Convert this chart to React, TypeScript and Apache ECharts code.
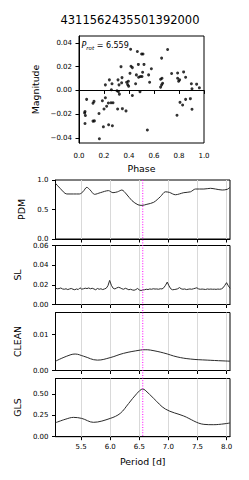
import React, { useEffect, useRef } from 'react';
import * as echarts from 'echarts';

const TITLE = '4311562435501392000';
const PROT = 6.559;
const PMIN = 5.059;
const PMAX = 8.059;
const PERIOD_TICKS = [5.5, 6.0, 6.5, 7.0, 7.5, 8.0];
const PHASE_TICKS = [0, 0.2, 0.4, 0.6, 0.8, 1.0];
const MAG_TICKS = [-0.04, -0.02, 0, 0.02, 0.04];

const phase = [0.413,0.467,0.501,0.512,0.709,0.661,0.336,0.416,0.427,0.475,0.520,0.579,0.408,0.459,0.509,0.491,0.477,0.504,0.557,0.741,0.789,0.837,0.344,0.312,0.664,0.653,0.243,0.853,0.789,0.797,0.565,0.395,0.381,0.453,0.341,0.211,0.264,0.320,0.389,0.669,0.661,0.653,0.805,0.899,0.941,0.963,0.904,0.304,0.315,0.323,0.397,0.259,0.488,0.427,0.061,0.120,0.112,0.187,0.211,0.235,0.256,0.272,0.221,0.200,0.160,0.048,0.045,0.051,0.123,0.112,0.048,0.195,0.237,0.267,0.309,0.347,0.376,0.163,0.547,0.784,0.808,0.829,0.853,0.891,0.904];
const magnitude = [0.0347,0.0328,0.0306,0.0306,0.0344,0.0272,0.0200,0.0203,0.0192,0.0219,0.0219,0.0183,0.0144,0.0131,0.0153,0.0117,0.0111,0.0117,0.0131,0.0142,0.0147,0.0156,0.0108,0.0089,0.0103,0.0094,0.0089,0.0111,0.0103,0.0078,0.0069,0.0078,0.0069,0.0056,0.0064,0.0047,0.0056,0.0047,0.0050,0.0061,0.0047,0.0028,0.0089,0.0056,0.0053,0.0022,0.0014,-0.0003,-0.0008,-0.0031,0.0036,0.0006,-0.0011,-0.0042,-0.0075,-0.0092,-0.0108,-0.0086,-0.0061,-0.0106,-0.0103,-0.0103,-0.0133,-0.0156,-0.0194,-0.0178,-0.0189,-0.0211,-0.0256,-0.0258,-0.0278,-0.0306,-0.0289,-0.0297,-0.0156,-0.0153,-0.0172,-0.0406,-0.0333,-0.0208,-0.0100,-0.0122,-0.0075,-0.0069,-0.0158];

const pdmPeriod = [5.059,5.138,5.253,5.368,5.47,5.53,5.598,5.655,5.73,5.83,5.97,6.046,6.126,6.20,6.276,6.374,6.477,6.546,6.63,6.747,6.862,6.948,7.017,7.12,7.264,7.38,7.466,7.61,7.724,7.81,7.926,8.012,8.059];
const pdmValue = [0.944,0.859,0.763,0.763,0.763,0.80,0.876,0.83,0.757,0.785,0.82,0.785,0.80,0.83,0.763,0.65,0.58,0.57,0.588,0.622,0.717,0.80,0.79,0.75,0.785,0.80,0.847,0.847,0.859,0.847,0.83,0.842,0.876];

const slPeriod = [5.06,5.09,5.12,5.15,5.18,5.21,5.24,5.27,5.30,5.33,5.36,5.39,5.42,5.45,5.48,5.51,5.54,5.57,5.60,5.63,5.66,5.69,5.72,5.75,5.78,5.81,5.84,5.87,5.90,5.93,5.96,5.99,6.02,6.05,6.08,6.11,6.14,6.17,6.20,6.23,6.26,6.29,6.32,6.35,6.38,6.41,6.44,6.47,6.50,6.53,6.56,6.59,6.62,6.65,6.68,6.71,6.74,6.77,6.80,6.83,6.86,6.89,6.92,6.95,6.98,7.01,7.04,7.07,7.10,7.13,7.16,7.19,7.22,7.25,7.28,7.31,7.34,7.37,7.40,7.43,7.46,7.49,7.52,7.55,7.58,7.61,7.64,7.67,7.70,7.73,7.76,7.79,7.82,7.85,7.88,7.91,7.94,7.97,8.00,8.03,8.06];
const slValue = [0.0165,0.0160,0.0162,0.0168,0.0158,0.0155,0.0160,0.0152,0.0158,0.0163,0.0155,0.0150,0.0158,0.0152,0.0170,0.0156,0.0160,0.0166,0.0162,0.0168,0.0160,0.0165,0.0158,0.0150,0.0163,0.0155,0.0160,0.0152,0.0158,0.0165,0.0190,0.0245,0.0195,0.0165,0.0158,0.0168,0.0175,0.0170,0.0160,0.0155,0.0165,0.0158,0.0150,0.0155,0.0148,0.0145,0.0152,0.0163,0.0148,0.0142,0.0148,0.0150,0.0155,0.0152,0.0158,0.0155,0.0160,0.0157,0.0158,0.0155,0.0160,0.0158,0.0170,0.0195,0.0228,0.0190,0.0160,0.0150,0.0152,0.0155,0.0160,0.0172,0.0160,0.0155,0.0158,0.0152,0.0155,0.0158,0.0155,0.0160,0.0165,0.0170,0.0158,0.0155,0.0157,0.0155,0.0153,0.0158,0.0155,0.0157,0.0155,0.0156,0.0154,0.0157,0.0155,0.0158,0.0170,0.0195,0.0222,0.0190,0.0165];

const cleanPeriod = [5.059,5.253,5.397,5.54,5.78,6.0,6.23,6.517,6.6,6.69,6.92,7.15,7.38,7.667,8.059];
const cleanValue = [0.0026,0.0040,0.0046,0.0040,0.0029,0.0036,0.0048,0.0057,0.0058,0.0057,0.0049,0.0038,0.0032,0.0029,0.0026];

const glsPeriod = [5.059,5.224,5.368,5.51,5.71,6.0,6.172,6.316,6.46,6.559,6.6,6.747,6.948,7.264,7.61,7.78,8.059];
const glsValue = [0.164,0.204,0.227,0.215,0.169,0.215,0.274,0.39,0.509,0.56,0.547,0.45,0.325,0.243,0.145,0.141,0.161];

const FONT = 'DejaVu Sans';
const TICK_FS = 7;
const NAME_FS = 9.4;

const zip = (a: number[], b: number[]) => a.map((v, i) => [v, b[i]]);

export default function App() {
  const ref = useRef<HTMLDivElement>(null);
  useEffect(() => {
    const chart = echarts.init(ref.current!, null, { renderer: 'svg' });

    const grids = [
      { left: 79, top: 36, width: 125, height: 107 },
      { left: 55.5, top: 180, width: 174.5, height: 59 },
      { left: 55.5, top: 245.5, width: 174.5, height: 59 },
      { left: 55.5, top: 312.5, width: 174.5, height: 58 },
      { left: 55.5, top: 378.5, width: 174.5, height: 58.2 },
    ].map((g) => ({ ...g, show: true, borderColor: '#000', borderWidth: 1, backgroundColor: 'transparent' }));

    const tickStyle = { show: true, length: 3.5, inside: false, lineStyle: { color: '#000', width: 1 } };
    const labelBase = { color: '#000000', fontSize: TICK_FS, fontFamily: FONT, fontWeight: 'normal' };
    const nameStyle = { color: '#000', fontSize: NAME_FS, fontFamily: FONT };
    const fmt = (d: number) => (v: number) => (v < 0 ? '\u2212' + Math.abs(v).toFixed(d) : v.toFixed(d));

    const periodX = (idx: number, last: boolean) => ({
      type: 'value', gridIndex: idx, min: PMIN, max: PMAX,
      axisLine: { show: true, lineStyle: { color: '#000', width: 1 } },
      axisTick: { ...tickStyle, customValues: PERIOD_TICKS },
      axisLabel: { ...labelBase, show: last, customValues: PERIOD_TICKS, formatter: fmt(1), margin: 7 },
      splitLine: { show: false },
      name: last ? 'Period [d]' : '', nameLocation: 'middle', nameGap: 20, nameTextStyle: nameStyle,
    });

    const periodY = (idx: number, max: number, ticks: number[], d: number, name: string, gap: number) => ({
      type: 'value', gridIndex: idx, min: 0, max,
      axisLine: { show: true, lineStyle: { color: '#000', width: 1 } },
      axisTick: { ...tickStyle, customValues: ticks },
      axisLabel: { ...labelBase, customValues: ticks, formatter: fmt(d), margin: 7 },
      splitLine: { show: false },
      name, nameLocation: 'middle', nameGap: gap, nameTextStyle: nameStyle,
    });

    const gridLines = {
      silent: true, symbol: ['none', 'none'], label: { show: false }, z: 1,
      lineStyle: { color: '#d9d9d9', width: 1, type: 'solid' },
      emphasis: { disabled: true },
      data: PERIOD_TICKS.map((v) => ({ xAxis: v })),
    };

    const lineSeries = (idx: number, p: number[], v: number[], smooth: number | boolean) => ({
      type: 'line', xAxisIndex: idx, yAxisIndex: idx, data: zip(p, v), smooth,
      symbol: 'none', z: 3, lineStyle: { color: '#2b2b2b', width: 1 },
      markLine: gridLines,
    });

    const option: any = {
      animation: false,
      backgroundColor: '#fff',
      grid: grids,
      xAxis: [
        {
          type: 'value', gridIndex: 0, min: 0, max: 1,
          axisLine: { show: true, lineStyle: { color: '#000', width: 1 } },
          axisTick: { ...tickStyle, customValues: PHASE_TICKS },
          axisLabel: { ...labelBase, customValues: PHASE_TICKS, formatter: fmt(1), margin: 9 },
          splitLine: { show: false },
          name: 'Phase', nameLocation: 'middle', nameGap: 21, nameTextStyle: nameStyle,
        },
        periodX(1, false), periodX(2, false), periodX(3, false), periodX(4, true),
      ],
      yAxis: [
        {
          type: 'value', gridIndex: 0, min: -0.0442, max: 0.0458,
          axisLine: { show: true, lineStyle: { color: '#000', width: 1 } },
          axisTick: { ...tickStyle, customValues: MAG_TICKS },
          axisLabel: { ...labelBase, customValues: MAG_TICKS, formatter: fmt(2), margin: 7 },
          splitLine: { show: false },
          name: 'Magnitude', nameLocation: 'middle', nameGap: 32, nameTextStyle: nameStyle,
        },
        periodY(1, 1, [0, 0.5, 1], 1, 'PDM', 19),
        periodY(2, 0.06, [0, 0.02, 0.04, 0.06], 2, 'SL', 31),
        periodY(3, 0.0162, [0, 0.01], 2, 'CLEAN', 31),
        periodY(4, 0.684, [0, 0.25, 0.5], 2, 'GLS', 31),
      ],
      series: [
        {
          type: 'scatter', xAxisIndex: 0, yAxisIndex: 0, data: zip(phase, magnitude),
          symbol: 'circle', symbolSize: 3, itemStyle: { color: '#000' },
        },
        lineSeries(1, pdmPeriod, pdmValue, 0.3),
        lineSeries(2, slPeriod, slValue, false),
        lineSeries(3, cleanPeriod, cleanValue, 0.4),
        lineSeries(4, glsPeriod, glsValue, 0.35),
      ],
    };
    chart.setOption(option);

    const px = chart.convertToPixel({ xAxisIndex: 1 }, PROT) as number;
    const yTop = chart.convertToPixel({ yAxisIndex: 1 }, 1) as number;
    const yBot = chart.convertToPixel({ yAxisIndex: 4 }, 0) as number;
    const sx = chart.convertToPixel({ xAxisIndex: 0 }, 0) as number;
    const sy = chart.convertToPixel({ yAxisIndex: 0 }, 0.0458) as number;

    chart.setOption({
      graphic: [
        {
          type: 'text', id: 'title', x: 130, y: 20, silent: true,
          style: {
            text: TITLE, fontSize: 11.5, fontFamily: FONT, fill: '#000',
            align: 'center', verticalAlign: 'middle', textAlign: 'center', textVerticalAlign: 'middle',
          },
        },
        {
          type: 'text', id: 'prot', x: sx + 2.5, y: sy + 9.5, silent: true, z: 10,
          style: {
            text: '{p|P}{s|rot} = ' + PROT.toFixed(3),
            fontSize: 8, fontFamily: FONT, fill: '#000',
            align: 'left', verticalAlign: 'middle', textAlign: 'left', textVerticalAlign: 'middle',
            rich: {
              p: { fontStyle: 'italic', fontSize: 8, fontFamily: FONT, fill: '#000' },
              s: { fontStyle: 'italic', fontSize: 5.5, fontFamily: FONT, fill: '#000', verticalAlign: 'bottom', padding: [4, 0, 0, 0] },
            },
          },
        },
        {
          type: 'line', id: 'prot-line', silent: true, z: 20,
          shape: { x1: px, y1: yTop, x2: px, y2: yBot },
          style: { stroke: '#ff00ff', lineWidth: 1, lineDash: [1, 1.6] },
        },
      ],
    });

    return () => chart.dispose();
  }, []);
  return <div ref={ref} style={{ position: 'absolute', left: 0, top: 0, width: 249, height: 480 }} />;
}
